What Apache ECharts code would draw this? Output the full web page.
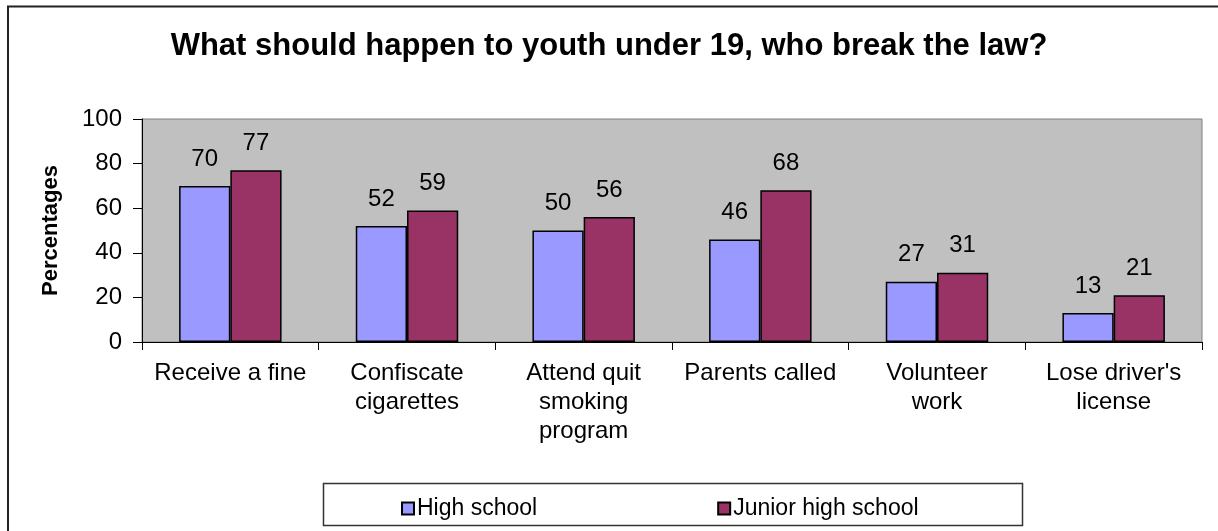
<!DOCTYPE html>
<html>
<head>
<meta charset="utf-8">
<script src="https://cdn.jsdelivr.net/npm/echarts@6/dist/echarts.min.js"></script>
<style>html,body{margin:0;padding:0;background:#fff;}#c{width:1218px;height:531px;}</style>
</head>
<body>
<div id="c"></div>
<script>
const categories = ["Receive a fine", "Confiscate\ncigarettes", "Attend quit\nsmoking\nprogram", "Parents called", "Volunteer\nwork", "Lose driver's\nlicense"];
const highSchool = [70, 52, 50, 46, 27, 13];
const juniorHigh = [77, 59, 56, 68, 31, 21];
const seriesNames = ["High school", "Junior high school"];
const titleText = "What should happen to youth under 19, who break the law?";
const yAxisName = "Percentages";

const FONT = "'Liberation Sans', Arial, sans-serif";
const chart = echarts.init(document.getElementById('c'), null, {renderer: 'canvas'});
chart.setOption({
  backgroundColor: '#fff',
  animation: false,
  title: {
    text: titleText, left: 'center', top: 26,
    textStyle: {fontFamily: FONT, fontSize: 31, fontWeight: 'bold', color: '#000'}
  },
  graphic: [
    {type: 'rect', shape: {x: 8, y: 6.5, width: 1400, height: 700}, style: {fill: 'none', stroke: '#222', lineWidth: 2}, z: 100},
    {type: 'rect', shape: {x: 323.5, y: 483.5, width: 699, height: 42}, style: {fill: '#fff', stroke: '#333', lineWidth: 1.5}, z: 0}
  ],
  legend: {
    left: 396, top: 492, itemWidth: 12, itemHeight: 12, itemGap: 180, icon: 'rect',
    textStyle: {fontFamily: FONT, fontSize: 23, color: '#000', padding: [0,0,0,-2]},
    data: seriesNames, z: 10
  },
  grid: {
    left: 142, right: 16, top: 119, bottom: 189,
    show: true, backgroundColor: '#C0C0C0', borderColor: '#808080', borderWidth: 1
  },
  xAxis: {
    type: 'category', data: categories,
    axisLine: {lineStyle: {color: '#000', width: 1}},
    axisTick: {show: true, length: 8, alignWithLabel: false, lineStyle: {color: '#000'}},
    axisLabel: {fontFamily: FONT, fontSize: 24, color: '#000', margin: 17, lineHeight: 29, interval: 0, align: 'center'}
  },
  yAxis: {
    type: 'value', min: 0, max: 100, interval: 20,
    name: yAxisName, nameLocation: 'middle', nameGap: 80, nameRotate: 90,
    nameTextStyle: {fontFamily: FONT, fontSize: 22, fontWeight: 'bold', color: '#000'},
    axisLine: {show: true, lineStyle: {color: '#000', width: 1}},
    axisTick: {show: true, length: 9, lineStyle: {color: '#000'}},
    splitLine: {show: false},
    axisLabel: {fontFamily: FONT, fontSize: 24, color: '#000', margin: 20}
  },
  series: [
    {
      name: seriesNames[0], type: 'bar', data: highSchool,
      barGap: '0%', barCategoryGap: '42%',
      itemStyle: {color: '#9999FF', borderColor: '#000', borderWidth: 1.5},
      label: {show: true, position: 'top', distance: 15, fontFamily: FONT, fontSize: 24, color: '#000'}
    },
    {
      name: seriesNames[1], type: 'bar', data: juniorHigh,
      itemStyle: {color: '#993366', borderColor: '#000', borderWidth: 1.5},
      label: {show: true, position: 'top', distance: 15, fontFamily: FONT, fontSize: 24, color: '#000'}
    }
  ]
});
</script>
</body>
</html>
